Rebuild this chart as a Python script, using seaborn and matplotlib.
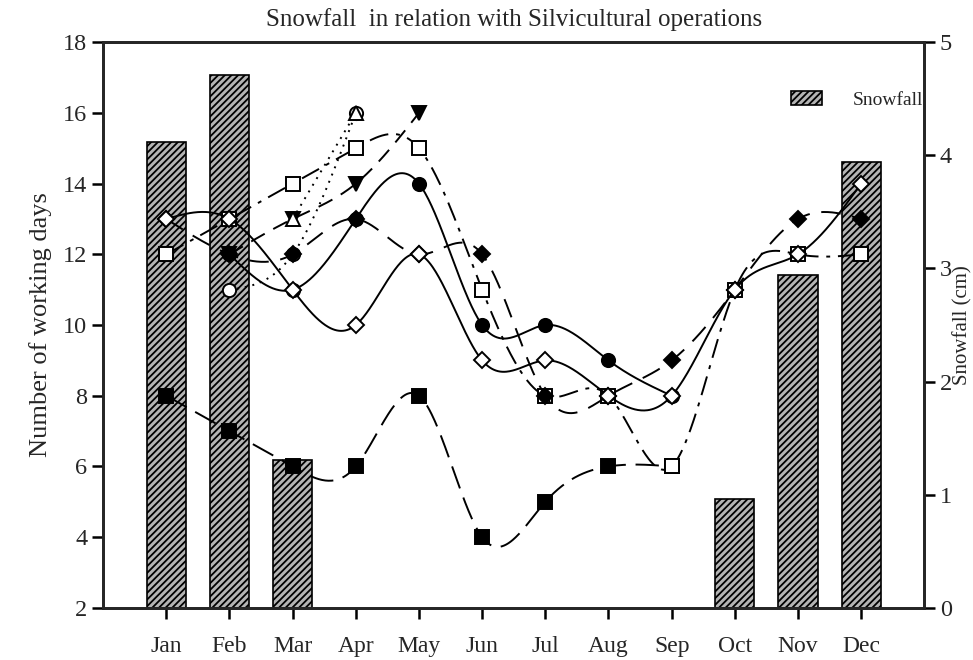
import numpy as np
import pandas as pd
import matplotlib
matplotlib.use("Agg")
import matplotlib.pyplot as plt
import seaborn as sns

months = ["Jan", "Feb", "Mar", "Apr", "May", "Jun",
          "Jul", "Aug", "Sep", "Oct", "Nov", "Dec"]

# snowfall (cm), right axis
snow_months = ["Jan", "Feb", "Mar", "Oct", "Nov", "Dec"]
snowfall = [4.12, 4.71, 1.31, 0.96, 2.94, 3.94]

# number of working days per operation (month index, value)
open_diamond_x = [0, 1, 2, 3, 4, 5, 6, 7, 8, 9, 10, 11]
open_diamond_y = [13, 13, 11, 10, 12, 9, 9, 8, 8, 11, 12, 14]

filled_circle_x = [1, 2, 3, 4, 5, 6, 7, 8]
filled_circle_y = [12, 11, 13, 14, 10, 10, 9, 8]

filled_diamond_x = [0, 1, 2, 3, 4, 5, 6, 7, 8, 9, 10, 11]
filled_diamond_y = [13, 12, 12, 13, 12, 12, 8, 8, 9, 11, 13, 13]

open_square_x = [0, 1, 2, 3, 4, 5, 6, 7, 8, 9, 10, 11]
open_square_y = [12, 13, 14, 15, 15, 11, 8, 8, 6, 11, 12, 12]

filled_square_x = [0, 1, 2, 3, 4, 5, 6, 7, 8]
filled_square_y = [8, 7, 6, 6, 8, 4, 5, 6, 6]

filled_tri_x = [1, 2, 3, 4]
filled_tri_y = [12, 13, 14, 16]

open_circle_x = [1, 2, 3]
open_circle_y = [11, 12, 16]

open_tri_x = [2, 3]
open_tri_y = [13, 16]


def natural_spline(x, y, n=60):
    """Smooth curve through the points (like SigmaPlot spline lines)"""
    x = np.asarray(x, float)
    y = np.asarray(y, float)
    if len(x) < 3:
        return x, y
    h = np.diff(x)
    k = len(x)
    A = np.zeros((k, k))
    b = np.zeros(k)
    A[0, 0] = A[-1, -1] = 1
    for i in range(1, k - 1):
        A[i, i - 1] = h[i - 1]
        A[i, i] = 2 * (h[i - 1] + h[i])
        A[i, i + 1] = h[i]
        b[i] = 6 * ((y[i + 1] - y[i]) / h[i] - (y[i] - y[i - 1]) / h[i - 1])
    M = np.linalg.solve(A, b)
    xs, ys = [], []
    for i in range(k - 1):
        t = np.linspace(x[i], x[i + 1], n, endpoint=(i == k - 2))
        a = x[i + 1] - t
        c = t - x[i]
        s = (M[i] * a ** 3 + M[i + 1] * c ** 3) / (6 * h[i]) \
            + (y[i] / h[i] - M[i] * h[i] / 6) * a \
            + (y[i + 1] / h[i] - M[i + 1] * h[i] / 6) * c
        xs.append(t)
        ys.append(s)
    return np.concatenate(xs), np.concatenate(ys)


sns.set_style("ticks")
plt.rcParams["font.family"] = ["Liberation Serif", "DejaVu Serif"]
plt.rcParams["hatch.linewidth"] = 1.3

fig = plt.figure(figsize=(9.73, 6.60), dpi=100)
ax = fig.add_axes([0.106, 0.079, 0.844, 0.857])

# bars (snowfall) on the base axes, shown with the right-hand scale
snow_df = pd.DataFrame({"month": snow_months, "snowfall": snowfall})
sns.barplot(data=snow_df, x="month", y="snowfall", order=months,
            color="#b4b4b4", width=0.62, edgecolor="black", linewidth=1.2,
            saturation=1, ax=ax, label="Snowfall")
for patch in ax.patches:
    patch.set_hatch("/////")
ax.set_ylim(0, 5)
ax.set_xlim(-1, 12)
ax.set_xlabel("")

leg = ax.legend(loc="center right", frameon=False, fontsize=14,
                bbox_to_anchor=(1.02, 0.898), handlelength=1.6,
                handleheight=0.7, handletextpad=1.6)

# lines (working days) on the twin axes, shown with the left-hand scale
ax2 = ax.twinx()
ax2.yaxis.tick_left()
ax2.yaxis.set_label_position("left")
ax2.set_ylim(2, 18)
ax2.set_yticks(range(2, 19, 2))
ax2.set_ylabel("Number of working days", fontsize=19, labelpad=8)

ax.yaxis.tick_right()
ax.yaxis.set_label_position("right")
ax.set_yticks(range(0, 6))
ax.set_ylabel("Snowfall (cm)", fontsize=15)
ax.yaxis.label.set_va("center")
ax.yaxis.set_label_coords(1.047, 0.5)

series = [
    (filled_square_x, filled_square_y, "s", "black", (12, 5)),
    (filled_circle_x, filled_circle_y, "o", "black", None),
    (open_circle_x, open_circle_y, "o", "white", (1, 3)),
    (filled_tri_x, filled_tri_y, "v", "black", (8, 5)),
    (open_square_x, open_square_y, "s", "white", (10, 4, 2, 4)),
    (filled_diamond_x, filled_diamond_y, "D", "black", (10, 6)),
    (open_tri_x, open_tri_y, "^", "white", (1, 3)),
    (open_diamond_x, open_diamond_y, "D", "white", None),
]

for xs, ys, marker, face, dash in series:
    sx, sy = natural_spline(xs, ys)
    line, = ax2.plot(sx, sy, color="black", lw=1.4)
    if dash is not None:
        line.set_dashes(dash)
    ms = 8 if marker == "D" else 9.5
    ax2.plot(xs, ys, linestyle="none", marker=marker, ms=ms,
             markerfacecolor=face, markeredgecolor="black",
             markeredgewidth=1.4)

ax.set_xticks(range(12))
ax.set_xticklabels(months)
for a in (ax, ax2):
    a.tick_params(axis="both", labelsize=17.5, width=1.8, length=8,
                  direction="out", color="black")
    for s in a.spines.values():
        s.set_linewidth(2)
        s.set_visible(True)
ax.tick_params(axis="x", labelsize=17, pad=12)
ax.tick_params(axis="y", pad=3)

ax.set_title("Snowfall  in relation with Silvicultural operations",
             fontsize=18, pad=12)

fig.savefig("out.png", dpi=100)
